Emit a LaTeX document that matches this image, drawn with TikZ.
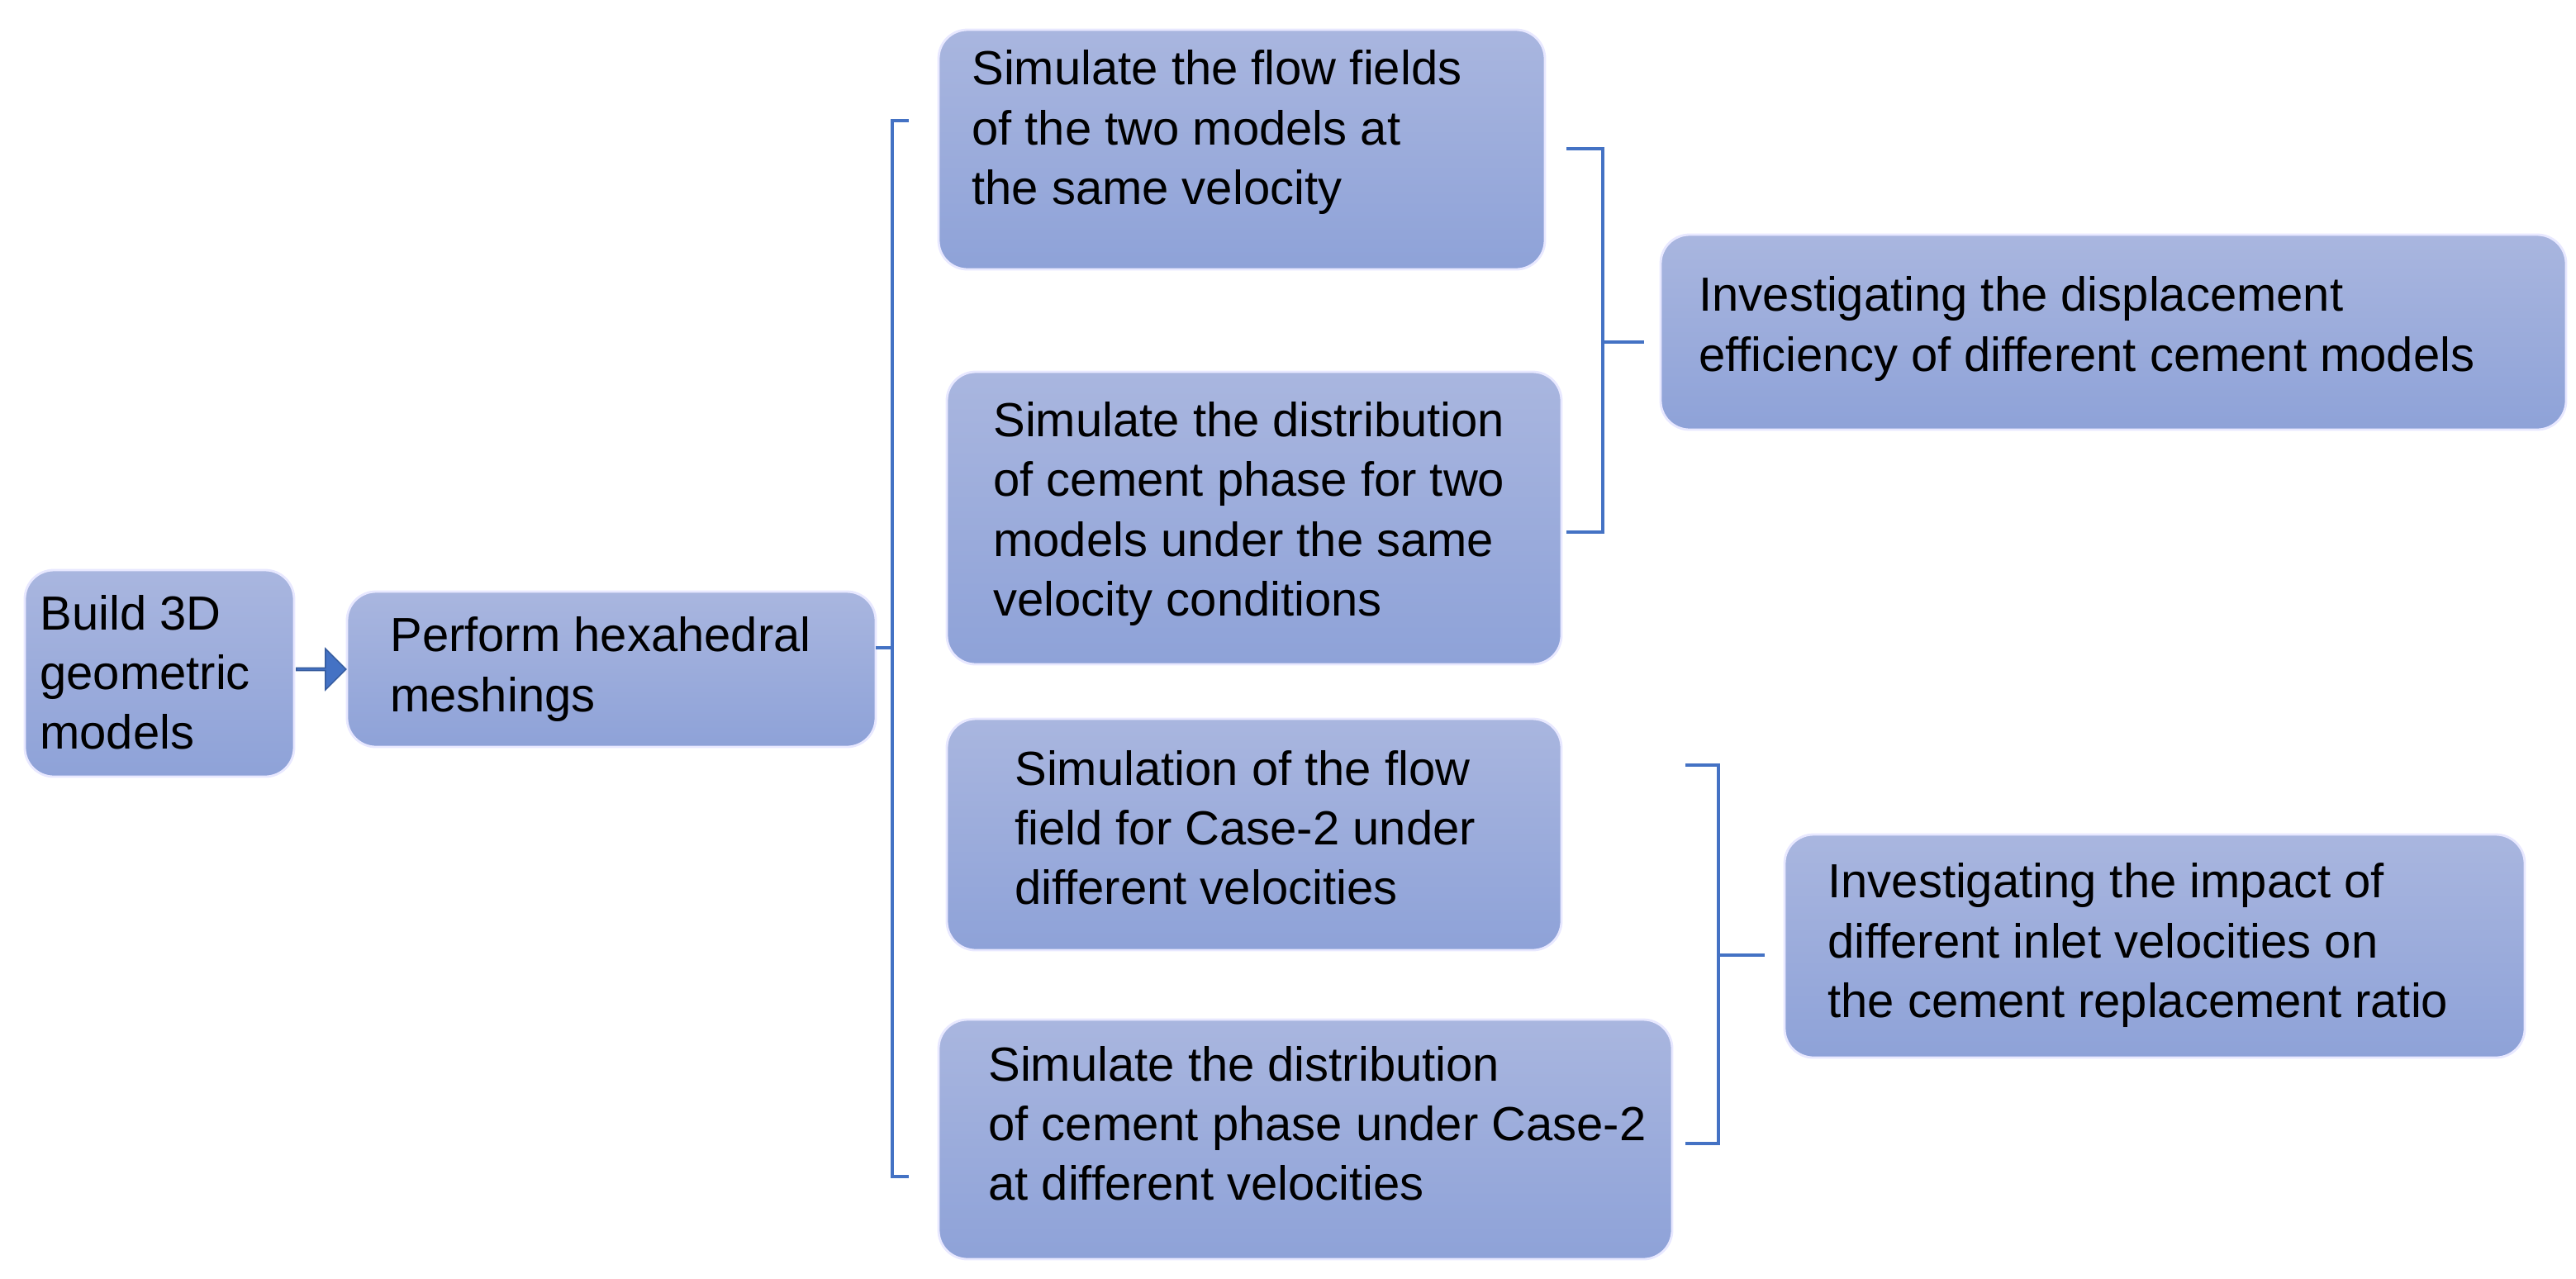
\documentclass[tikz,border=0pt]{standalone}
\usepackage{fontspec}
\setmainfont{Liberation Sans}
\usetikzlibrary{shapes.arrows}
\begin{document}
\begin{tikzpicture}[x=0.02cm,y=-0.02cm,
 box/.style={draw=white!70!blue!30, line width=0.8pt, rounded corners=0.35cm, top color=boxtop, bottom color=boxbot, inner sep=0pt, font=\fontsize{16.5}{20.5}\selectfont, align=left},
 br/.style={draw=brc, line width=0.9pt}]
\definecolor{boxtop}{HTML}{A9B6DF}
\definecolor{boxbot}{HTML}{8EA2D8}
\definecolor{brc}{HTML}{4472C4}
\useasboundingbox (0,0) rectangle (1559,773.5);
\path[box] (15,345) rectangle (178,470);
\node[font=\fontsize{16.5}{20.5}\selectfont,align=left,anchor=west] (a) at (18,407) {Build 3D\\geometric\\models};
\path[box] (210,358) rectangle (530,452);
\node[font=\fontsize{16.5}{20.5}\selectfont,align=left,anchor=west] (b) at (230,405) {Perform hexahedral\\meshings};
\path[box] (568,18) rectangle (935,163);
\node[font=\fontsize{16.5}{20.5}\selectfont,align=left,anchor=west] (c) at (582,80) {Simulate the flow fields\\of the two models at\\the same velocity};
\path[box] (573,225) rectangle (945,402);
\node[font=\fontsize{16.5}{20.5}\selectfont,align=left,anchor=west] (d) at (595,311) {Simulate the distribution\\of cement phase for two\\models under the same\\velocity conditions};
\path[box] (573,435) rectangle (945,575);
\node[font=\fontsize{16.5}{20.5}\selectfont,align=left,anchor=west] (e) at (608,501) {Simulation of the flow\\field for Case-2 under\\different velocities};
\path[box] (568,617) rectangle (1012,762);
\node[font=\fontsize{16.5}{20.5}\selectfont,align=left,anchor=west] (f) at (592,680) {Simulate the distribution\\of cement phase under Case-2\\at different velocities};
\path[box] (1005,142) rectangle (1553,260);
\node[font=\fontsize{16.5}{20.5}\selectfont,align=left,anchor=west] (g) at (1022,199) {Investigating the displacement\\efficiency of different cement models};
\path[box] (1080,505) rectangle (1528,640);
\node[font=\fontsize{16.5}{20.5}\selectfont,align=left,anchor=west] (h) at (1100,572) {Investigating the impact of\\different inlet velocities on\\the cement replacement ratio};
\node[single arrow, fill=brc, draw=brc!80!black, minimum height=0.6cm, minimum width=0.5cm, single arrow head extend=0.1cm, inner sep=0pt] (ar) at (194,405) {};
\coordinate (l1) at (530,392);
\draw[br] (550,73) -- (540,73) -- (540,392) -- (l1) (540,392) -- (540,712) -- (550,712);
\draw[br] (948,90) -- (970,90) -- (970,322) -- (948,322) (970,207) -- (995,207);
\draw[br] (1020,463) -- (1040,463) -- (1040,692) -- (1020,692) (1040,578) -- (1068,578);
\end{tikzpicture}
\end{document}
